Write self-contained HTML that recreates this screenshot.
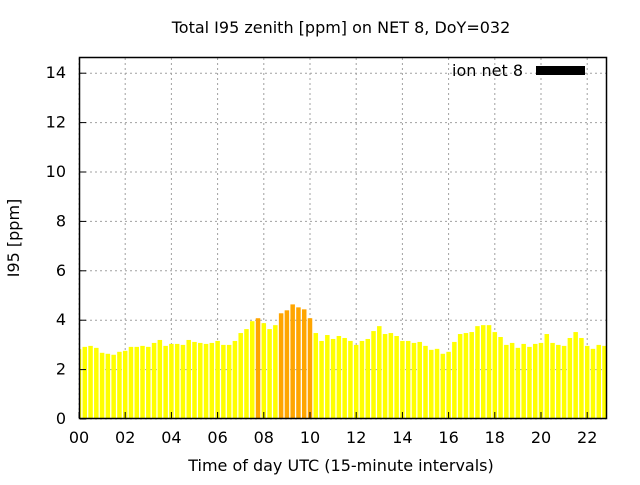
<!DOCTYPE html>
<html><head><meta charset="utf-8"><style>
body{margin:0;background:#fff}
svg text{font-family:"DejaVu Sans","Liberation Sans",sans-serif;font-size:16px;fill:#000}
</style></head><body>
<svg id="chart" width="640" height="480">
<text x="341" y="33" text-anchor="middle">Total I95 zenith [ppm] on NET 8, DoY=032</text>
<text x="341" y="471" text-anchor="middle">Time of day UTC (15-minute intervals)</text>
<text transform="translate(19,238) rotate(-90)" text-anchor="middle">I95 [ppm]</text>
<g id="grid"></g><g id="bars"></g><g id="ticks"></g>
<rect x="79.5" y="57.5" width="527" height="361" fill="none" stroke="#000" stroke-width="1.5"/>
<g>
<text x="523" y="76" text-anchor="end">ion net 8</text>
<rect x="536" y="66" width="49" height="9" fill="#000"/>
</g>
</svg>
<script>
const values=[2.83,2.92,2.96,2.88,2.68,2.64,2.6,2.72,2.76,2.92,2.92,2.96,2.92,3.08,3.2,2.96,3.04,3.04,3.0,3.2,3.12,3.08,3.04,3.08,3.16,3.0,3.0,3.16,3.48,3.64,3.96,4.08,3.88,3.64,3.8,4.28,4.4,4.64,4.52,4.44,4.08,3.48,3.16,3.4,3.24,3.36,3.28,3.16,3.0,3.16,3.24,3.56,3.76,3.44,3.48,3.36,3.16,3.16,3.08,3.12,2.96,2.8,2.84,2.64,2.72,3.12,3.44,3.48,3.52,3.76,3.8,3.8,3.52,3.32,3.0,3.08,2.88,3.04,2.92,3.04,3.08,3.44,3.08,3.0,2.96,3.28,3.52,3.28,2.96,2.84,3.0,2.96];
const highlighted=[31,35,36,37,38,39,40];
const xTicks=[0,2,4,6,8,10,12,14,16,18,20,22];
const xTickLabels=["00","02","04","06","08","10","12","14","16","18","20","22"];
const yTicks=[0,2,4,6,8,10,12,14];
const NS="http://www.w3.org/2000/svg";
const x=h=>79+h*23.1;
const y=v=>419-v*24.7;
function mk(tag,attrs,parent){const e=document.createElementNS(NS,tag);for(const k in attrs)e.setAttribute(k,attrs[k]);parent.appendChild(e);return e;}
const grid=document.getElementById('grid'),bars=document.getElementById('bars'),ticks=document.getElementById('ticks');
xTicks.forEach((t,i)=>{
 const l=mk('line',{x1:x(t),x2:x(t),y1:58,y2:418,stroke:'#a0a0a0','stroke-dasharray':'2,3'},grid);
 
 
 const tk=mk('line',{x1:x(t),x2:x(t),y1:418,y2:412,stroke:'#000'},ticks);
 
 
 const tx=mk('text',{x:x(t),y:443,'text-anchor':'middle'},ticks);tx.textContent=xTickLabels[i];
 
 
});
yTicks.forEach(t=>{
 const l=mk('line',{x1:80,x2:606,y1:y(t),y2:y(t),stroke:'#a0a0a0','stroke-dasharray':'2,3'},grid);
 
 
 const tk=mk('line',{x1:80,x2:86,y1:y(t),y2:y(t),stroke:'#000'},ticks);
 
 
 const tx=mk('text',{x:66,y:y(t)+5,'text-anchor':'end'},ticks);tx.textContent=t;
 
 
});
const clip=mk('clipPath',{id:'pc'},document.getElementById('chart'));mk('rect',{x:80,y:58,width:526,height:360},clip);
bars.setAttribute('clip-path','url(#pc)');
values.forEach((v,i)=>{
 const cx=x(i*0.25);
 const r=mk('rect',{x:cx-2.25,y:y(v),width:4.5,height:y(0)-y(v),fill:highlighted.includes(i)?'#ffa500':'#ffff00'},bars);
 
 
});
</script>
</body></html>
